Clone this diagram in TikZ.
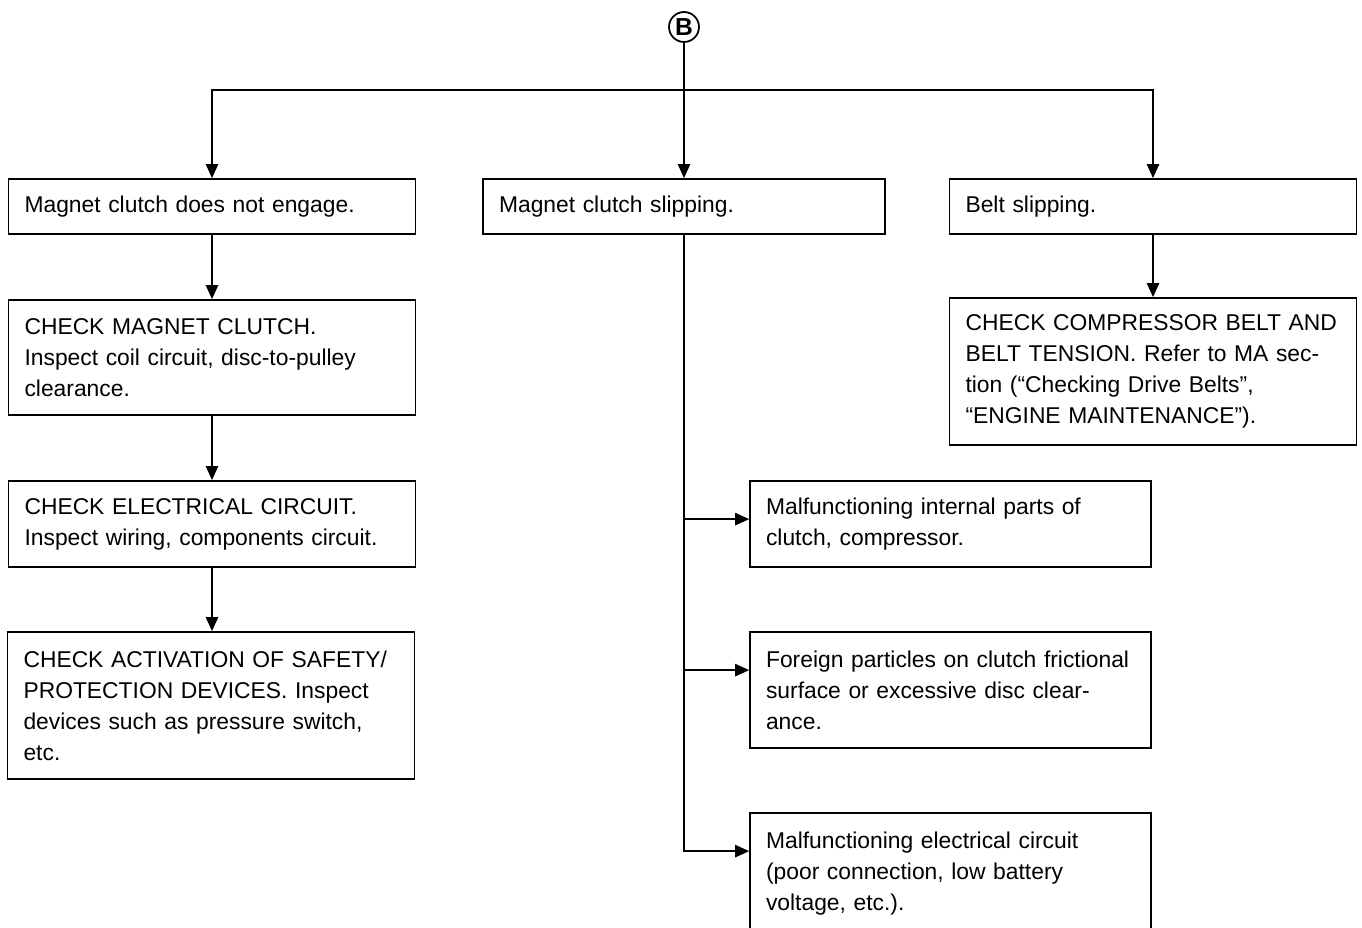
\documentclass[tikz,border=0pt]{standalone}
\usepackage{fontspec}
\setmainfont{Liberation Sans}
\usetikzlibrary{arrows.meta,positioning,calc}

\begin{document}
\begin{tikzpicture}[x=0.02cm, y=-0.02cm,
    line width=1pt,
    box/.style={draw, line width=1pt, rectangle, inner xsep=0.32cm, inner ysep=0pt, align=left, text width=#1, font=\fontsize{13}{17.6}\selectfont},
    box/.default=7.5cm,
    link/.style={-{Triangle[length=8pt,width=7pt]}},
    tag/.style={draw, circle, line width=1pt, minimum size=0.6cm, inner sep=0pt, font=\fontsize{14}{14}\selectfont\bfseries}
]
    \useasboundingbox (0,0) rectangle (1362,928);

    \node[tag] (B) at (684,27) {B};
    \coordinate (bus) at (684,90);

    % symptoms
    \node[box, minimum height=1.1cm] (engage) at (212,206.5) {Magnet clutch does not engage.};
    \node[box=7.4cm, minimum height=1.1cm] (slip) at (684,206.5) {Magnet clutch slipping.};
    \node[box, minimum height=1.1cm] (belt) at (1153,206.5) {Belt slipping.};

    % left column
    \node[box, minimum height=2.3cm] (chkclutch) at (212,357.5) {CHECK MAGNET CLUTCH.\\Inspect coil circuit, disc-to-pulley\\clearance.};
    \node[box, minimum height=1.72cm] (chkcircuit) at (212,524) {CHECK ELECTRICAL CIRCUIT.\\Inspect wiring, components circuit.};
    \node[box, minimum height=2.94cm] (chksafety) at (211,705.5) {CHECK ACTIVATION OF SAFETY/\\PROTECTION DEVICES. Inspect\\devices such as pressure switch,\\etc.};

    % right column
    \node[box, minimum height=2.94cm] (chkbelt) at (1153,371.5) {CHECK COMPRESSOR BELT AND\\BELT TENSION. Refer to MA sec-\\tion (“Checking Drive Belts”,\\“ENGINE MAINTENANCE”).};

    % middle column
    \node[box=7.38cm, minimum height=1.72cm] (internal) at (950.5,524) {Malfunctioning internal parts of\\clutch, compressor.};
    \node[box=7.38cm, minimum height=2.32cm] (foreign) at (950.5,690) {Foreign particles on clutch frictional\\surface or excessive disc clear-\\ance.};
    \node[box=7.38cm, minimum height=2.44cm] (elec) at (950.5,874) {Malfunctioning electrical circuit\\(poor connection, low battery\\voltage, etc.).};

    \coordinate (internalin) at ([yshift=-0.78cm]internal.north west);
    \coordinate (foreignin) at ([yshift=-0.78cm]foreign.north west);
    \coordinate (elecin) at ([yshift=-0.78cm]elec.north west);

    \draw (B) -- (bus);
    \draw[link] (bus) -| (engage);
    \draw[link] (bus) -| (belt);
    \draw[link] (bus) -- (slip);

    \draw[link] (engage) -- (chkclutch);
    \draw[link] (chkclutch) -- (chkcircuit);
    \draw[link] (chkcircuit.south) -- (chkcircuit.south |- chksafety.north);
    \draw[link] (belt) -- (chkbelt);

    \draw[link] (slip.south) |- (elecin);
    \draw[link] (slip.south |- internalin) -- (internalin);
    \draw[link] (slip.south |- foreignin) -- (foreignin);
\end{tikzpicture}
\end{document}
